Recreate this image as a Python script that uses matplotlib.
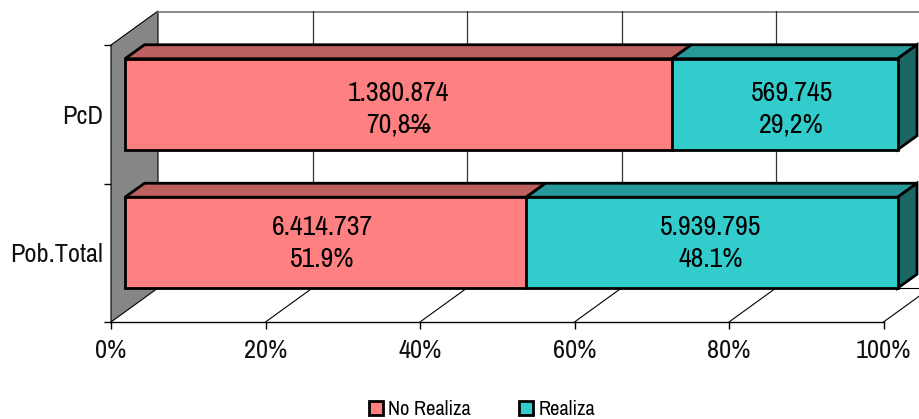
import matplotlib
matplotlib.use("Agg")
import matplotlib.pyplot as plt
from matplotlib.patches import Polygon, Patch

# data
categories = ['Pob.Total', 'PcD']
no_realiza = [6414737, 1380874]
realiza = [5939795, 569745]
lab_no = ['6.414.737\n51.9%', '1.380.874\n70,8%']
lab_si = ['5.939.795\n48.1%', '569.745\n29,2%']
xticks = [0, 20, 40, 60, 80, 100]
series_names = ['No Realiza', 'Realiza']

W, H = 919, 419
plt.rcParams['font.family'] = ['Archivo Narrow', 'Roboto Condensed', 'Liberation Sans', 'DejaVu Sans']

# pixels per data unit, axes box is the front plane of the 3d box
px_x = (883.5 - 111) / 100.
px_y = (322 - 45) / 2.
EDGE = 2.0

fig = plt.figure(figsize=(W/100., H/100.), dpi=100, facecolor='white')
ax = fig.add_axes([111./W, 1-322./H, (883.5-111)/W, (322-45.)/H])
ax.set_xlim(0, 100)
ax.set_ylim(0, 2)
ax.patch.set_visible(False)
for s in ['top', 'right', 'left']:
    ax.spines[s].set_visible(False)
ax.spines['bottom'].set_linewidth(1.0)


def off(dx, dy):
    return dx/px_x, dy/px_y


def poly(pts, fc, lw=EDGE, z=5):
    ax.add_patch(Polygon(pts, closed=True, fc=fc, ec='black', lw=lw, zorder=z,
                         joinstyle='miter', clip_on=False))


# walls
bx, by = off(47, 34)
poly([(0, 0), (bx, by), (bx, 2+by), (0, 2)], '#868686', lw=0.8, z=1)
xmax_back = (W - 111)/px_x
ax.plot([bx, xmax_back], [2+by-0.007, 2+by-0.007], color='#777777', lw=1.2, zorder=1, clip_on=False)
ax.plot([bx, xmax_back], [by, by], color='black', lw=0.8, zorder=1, clip_on=False)
for t in xticks[1:]:
    ax.plot([t, t+bx], [0, by], color='black', lw=0.8, zorder=1, clip_on=False)
    ax.plot([t+bx, t+bx], [by, 2+by], color='#333333', lw=0.9, zorder=1, clip_on=False)

# bars, front plane is moved back into the box a bit
fx, fy = off(14, 10)
dx, dy = off(19.5, 14)
bar_h = 91/px_y
# label nudges in px, the original labels are not quite centred
nudge_no = [(-3, -1), (0, -5)]
nudge_si = [(-1, -1), (7, -5)]
for i in [1, 0]:
    tot = float(no_realiza[i] + realiza[i])
    v1 = 100*no_realiza[i]/tot
    yb = i + 0.5 + fy - bar_h/2
    yt = yb + bar_h
    x0 = fx
    x1 = fx + v1
    x2 = fx + 100
    poly([(x0, yt), (x0+dx, yt+dy), (x1+dx, yt+dy), (x1, yt)], '#BC6060')
    poly([(x1, yt), (x1+dx, yt+dy), (x2+dx, yt+dy), (x2, yt)], '#269999')
    poly([(x2, yb), (x2+dx, yb+dy), (x2+dx, yt+dy), (x2, yt)], '#1C6666')
    ax.barh(yb, v1, height=bar_h, left=x0, align='edge', color='#FF8080', ec='black', lw=EDGE,
            zorder=6, clip_on=False)
    ax.barh(yb, 100-v1, height=bar_h, left=x1, align='edge', color='#33CCCC', ec='black', lw=EDGE,
            zorder=6, clip_on=False)
    ym = (yb+yt)/2
    ax.text((x0+x1)/2 + nudge_no[i][0]/px_x, ym + nudge_no[i][1]/px_y, lab_no[i], ha='center', va='center',
            fontsize=20, linespacing=1.35, color='black', zorder=8, weight='medium')
    ax.text((x1+x2)/2 + nudge_si[i][0]/px_x, ym + nudge_si[i][1]/px_y, lab_si[i], ha='center', va='center',
            fontsize=20, linespacing=1.35, color='black', zorder=8, weight='medium')

# stray stroke over the 70,8% label in the original
ax.plot([(408-111)/px_x, (430-111)/px_x], [(322-128)/px_y]*2, color='black', lw=1.2, zorder=9)

ax.set_xticks(xticks)
ax.set_xticklabels(['%d%%' % t for t in xticks], fontsize=19, color='#111111')
ax.tick_params(axis='x', length=5, width=1.0, pad=7)
ax.set_yticks([0, 1, 2])
ax.set_yticklabels([])
ax.set_yticks([0.5, 1.5], minor=True)
ax.set_yticklabels(categories, minor=True, fontsize=19, color='#111111')
ax.tick_params(axis='y', which='major', length=5, width=1.0)
ax.tick_params(axis='y', which='minor', length=0, pad=6)

handles = [Patch(fc='#FF8080', ec='black', lw=EDGE), Patch(fc='#33CCCC', ec='black', lw=EDGE)]
fig.legend(handles, series_names, loc='lower left', bbox_to_anchor=(365./W, -4./H), ncol=2, frameon=False,
           fontsize=14.7, handlelength=0.7, handleheight=0.7, handletextpad=0.25, columnspacing=2.35,
           borderpad=0.2, borderaxespad=0)

fig.savefig('out.png', dpi=100)
